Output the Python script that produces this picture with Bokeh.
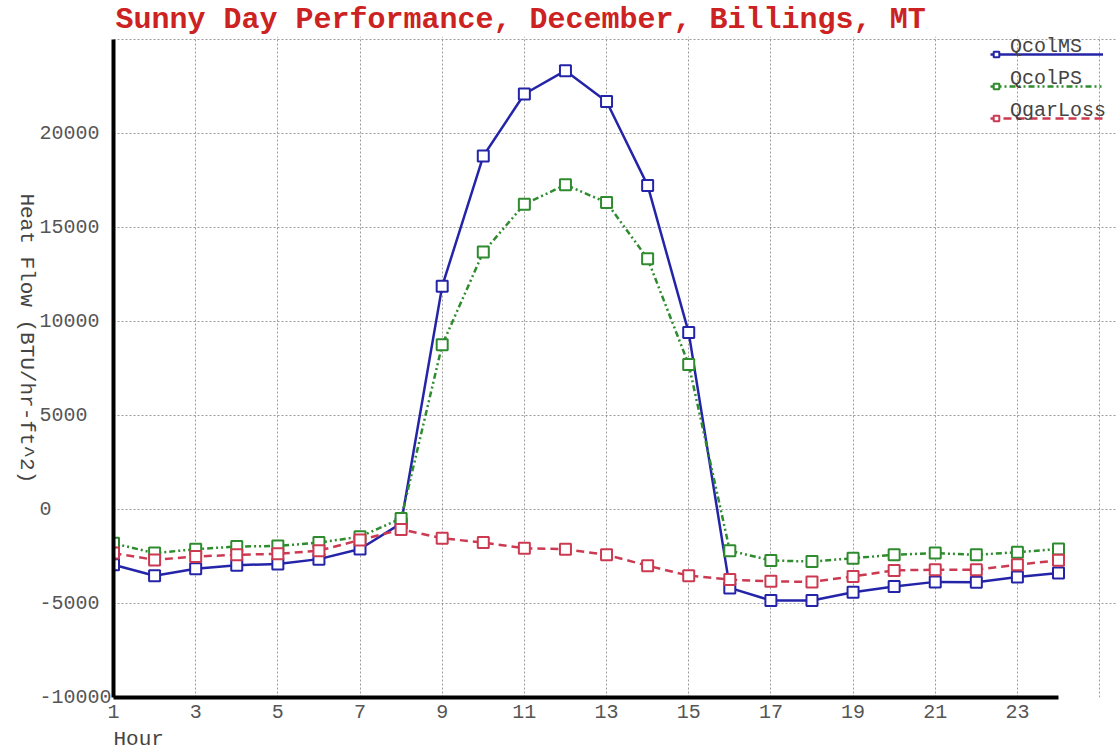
import math
from bokeh.plotting import figure
from bokeh.models import Range1d, FixedTicker, Legend, LegendItem, Title
from bokeh.embed import file_html
from bokeh.resources import INLINE

# ---- data ----
hours = list(range(1, 25))
qcol_ms = [-2940, -3520, -3150, -2960, -2900, -2640, -2100, -740, 11880, 18800, 22100, 23340,
           21700, 17240, 9410, -4170, -4840, -4840, -4400, -4090, -3850, -3870, -3590, -3380]
qcol_ps = [-1800, -2320, -2110, -1970, -1940, -1760, -1450, -480, 8760, 13690, 16240, 17270,
           16330, 13340, 7710, -2190, -2710, -2770, -2590, -2410, -2320, -2410, -2270, -2100]
qgar_loss = [-2320, -2680, -2500, -2410, -2360, -2190, -1620, -1060, -1530, -1760, -2060, -2110,
             -2410, -2990, -3520, -3730, -3820, -3850, -3560, -3240, -3200, -3200, -2940, -2700]
series_names = ["QcolMS", "QcolPS", "QgarLoss"]
x_ticks = list(range(1, 24, 2))
x_grid_ticks = list(range(3, 26, 2))
y_ticks = [-10000, -5000, 0, 5000, 10000, 15000, 20000, 25000]
title_text = "Sunny Day Performance, December, Billings, MT"
x_label = "Hour"
y_label = "Heat Flow (BTU/hr-ft^2)"

MONO = "Liberation Mono"
NB = "\u00a0"
colors = ["#2424a8", "#2e8b2e", "#cc3a52"]
dashes = ["solid", "6 3 2 3 2 3", "8 5"]

W, H = 1118, 754
FL, FR, FT, FB = 113, 1116, 35, 697      # frame edges (px)
HOUR_PX = (1058 - 113) / 23.0             # px per hour
VAL_PX = (697 - 38) / 35000.0             # px per unit
X0 = 1
X1 = X0 + (FR - FL) / HOUR_PX
Y0 = -10000
Y1 = 25000 + (38 - FT) / VAL_PX

p = figure(width=W, height=H, output_backend="svg", toolbar_location=None,
           x_range=Range1d(X0, X1), y_range=Range1d(Y0, Y1),
           min_border_left=FL, min_border_right=W - FR, min_border_top=FT,
           min_border_bottom=H - FB)
p.outline_line_color = None
p.background_fill_color = "white"
p.border_fill_color = "white"

p.title = Title(text=title_text, text_font=MONO, text_font_style="bold",
                text_font_size="30px", text_color="#cc2222", align="left",
                offset=2, standoff=0)

for ax in (p.xaxis[0], p.yaxis[0]):
    ax.axis_line_width = 4
    ax.axis_line_color = "black"
    ax.major_tick_line_color = None
    ax.minor_tick_line_color = None
    ax.major_tick_out = 0
    ax.major_tick_in = 0
    ax.minor_tick_out = 0
    ax.major_label_text_font = MONO
    ax.major_label_text_font_size = "20px"
    ax.major_label_text_color = "#555555"
    ax.axis_label_text_font = MONO
    ax.axis_label_text_font_size = "21px"
    ax.axis_label_text_font_style = "normal"
    ax.axis_label_text_color = "#444444"

xa, ya = p.xaxis[0], p.yaxis[0]
xa.ticker = FixedTicker(ticks=x_ticks)
xa.bounds = (1, 24)
xa.major_label_standoff = 7
ya.ticker = FixedTicker(ticks=y_ticks)
ya.bounds = (-10000, 25000)
# left-aligned look: pad on the right so every label starts at the same x
ya.major_label_overrides = {t: (str(t).ljust(6, NB) if t != 25000 else "") for t in y_ticks}
ya.major_label_standoff = 2

# y label reads top-to-bottom, anchored at the axis start
ya.axis_label = y_label + NB * 17
ya.axis_label_standoff = 10
ya.axis_label_orientation = -math.pi / 2
ya.axis_label_align = "start"

xa.axis_label = NB * 4 + x_label
xa.axis_label_standoff = 7
xa.axis_label_align = "start"

p.xgrid.ticker = FixedTicker(ticks=x_grid_ticks)
for g in (p.xgrid[0], p.ygrid[0]):
    g.grid_line_color = "#9a9a9a"
    g.grid_line_dash = "2 2"
    g.grid_line_width = 1

line_rs, mark_rs = [], []
for vals, c, d in zip([qcol_ms, qcol_ps, qgar_loss], colors, dashes):
    lr = p.line(hours, vals, line_color=c, line_width=2.5, line_dash=d)
    mr = p.scatter(hours, vals, marker="square", size=11, line_color=c,
                   fill_color="white", line_width=2)
    line_rs.append(lr)
    mark_rs.append(mr)

common = dict(spacing=0, padding=0, margin=0, background_fill_alpha=0,
              border_line_color=None, glyph_height=32, label_height=32)
leg_lines = Legend(items=[LegendItem(label=" ", renderers=[r]) for r in line_rs],
                   location=(877, 563), glyph_width=113, **common)
leg_marks = Legend(items=[LegendItem(label=" ", renderers=[r]) for r in mark_rs],
                   location=(876, 563), glyph_width=14, **common)
leg_text = Legend(items=[LegendItem(label=n, renderers=[r]) for n, r in zip(series_names, line_rs)],
                  location=(897, 571), glyph_width=0, label_standoff=0,
                  label_text_font=MONO, label_text_font_size="20px",
                  label_text_color="#444444", **common)
for lg in (leg_lines, leg_marks, leg_text):
    p.add_layout(lg)

open("out.html", "w").write(file_html(p, INLINE))
